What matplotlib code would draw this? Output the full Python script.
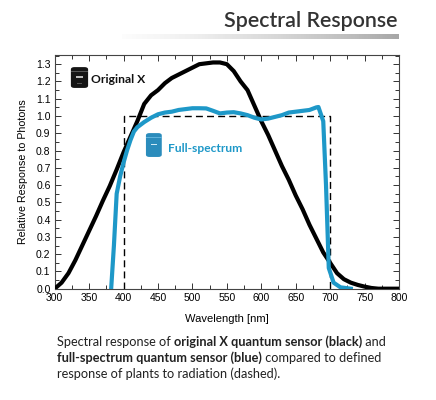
import numpy as np
import matplotlib.pyplot as plt
from matplotlib.patches import FancyBboxPatch, Rectangle
from matplotlib.ticker import MultipleLocator

# spectral response curves
wl_orig = [300, 310, 320, 330, 340, 350, 360, 370, 380, 390, 400, 410, 420, 430,
           440, 450, 460, 470, 480, 490, 500, 510, 520, 530, 540, 550, 560, 570,
           580, 590, 600, 610, 620, 630, 640, 650, 660, 670, 680, 690, 700, 710,
           720, 730, 740, 750, 760, 770, 780, 800]
resp_orig = [0.0, 0.035, 0.09, 0.165, 0.25, 0.335, 0.42, 0.51, 0.595, 0.69, 0.79, 0.88,
             0.97, 1.07, 1.12, 1.15, 1.19, 1.22, 1.24, 1.26, 1.28, 1.30, 1.305, 1.31,
             1.31, 1.30, 1.26, 1.20, 1.15, 1.06, 0.97, 0.89, 0.80, 0.71, 0.63, 0.54,
             0.46, 0.37, 0.29, 0.21, 0.15, 0.09, 0.055, 0.035, 0.022, 0.012, 0.004,
             0.0, 0.0, 0.0]

wl_full = [382, 386, 390, 395, 400, 405, 410, 415, 420, 430, 440, 450, 460, 470,
           480, 490, 500, 510, 520, 530, 540, 550, 560, 570, 580, 590, 600, 610,
           620, 630, 640, 650, 660, 670, 680, 683, 690, 694, 698, 705, 715, 730]
resp_full = [0.0, 0.25, 0.55, 0.65, 0.73, 0.80, 0.86, 0.91, 0.935, 0.965, 0.99,
             1.01, 1.02, 1.025, 1.035, 1.04, 1.045, 1.045, 1.044, 1.03, 1.015, 1.02,
             1.022, 1.015, 1.005, 0.99, 0.98, 0.985, 0.995, 1.005, 1.02, 1.025, 1.03,
             1.035, 1.05, 1.052, 0.97, 0.60, 0.12, 0.035, 0.008, 0.0]

# defined plant response (dashed box)
wl_plant = [400, 400, 700, 700]
resp_plant = [0.0, 1.0, 1.0, 0.0]

blue = "#1e98c8"
W, H = 436, 400

fig = plt.figure(figsize=(W / 100, H / 100), dpi=100)
renderer = fig.canvas.get_renderer()
ax = fig.add_axes([54.7 / W, 1 - 288.7 / H, (399 - 54.7) / W, (288.7 - 54.7) / H])

ax.plot(wl_plant, resp_plant, color="black", lw=1.0, ls=(0, (5, 3)), zorder=2)
ax.plot(wl_orig, resp_orig, color="black", lw=3.0, solid_joinstyle="round", zorder=3)
ax.plot(wl_full, resp_full, color=blue, lw=3.0, solid_joinstyle="round", zorder=4)

ax.set_xlim(300, 800)
ax.set_ylim(0, 1.355)
ax.xaxis.set_major_locator(MultipleLocator(50))
ax.xaxis.set_minor_locator(MultipleLocator(25))
ax.yaxis.set_minor_locator(MultipleLocator(0.05))
yt = np.arange(0, 1.31, 0.1)
ax.set_yticks(yt)
ax.set_yticklabels([f"{v:.1f}" for v in yt])
ax.tick_params(which="both", direction="in", top=True, right=True,
               labelsize=7.5, colors="#333333", pad=3, labelcolor="black")
ax.tick_params(which="major", length=4, width=0.7)
ax.tick_params(which="minor", length=3, width=0.7)
for s in ax.spines.values():
    s.set_linewidth(0.8)
    s.set_color("#444444")
for lab in ax.get_xticklabels() + ax.get_yticklabels():
    lab.set_family("Liberation Sans")


def fit(t, target, horiz=True):
    # scale a text so its extent matches the reference size in pixels
    bb = t.get_window_extent(renderer)
    size = bb.width if horiz else bb.height
    t.set_fontsize(t.get_fontsize() * target / size)


xl = ax.set_xlabel("Wavelength [nm]", family="Liberation Sans", fontsize=8, labelpad=8)
yl = ax.set_ylabel("Relative Response to Photons", family="Liberation Sans",
                   fontsize=8, labelpad=6)
fit(xl, 84)
fit(yl, 144, horiz=False)


def sensor_icon(x0, y0, w, h, body, rim, label):
    # little sensor glyph drawn in axes fraction
    ax.add_patch(FancyBboxPatch((x0, y0), w, h, boxstyle="round,pad=0,rounding_size=0.01",
                                transform=ax.transAxes, fc=body, ec="none", zorder=5))
    ax.add_patch(Rectangle((x0, y0 + h * 0.78), w, h * 0.04,
                           transform=ax.transAxes, fc=rim, ec="none", zorder=6))
    ax.add_patch(Rectangle((x0 + w * 0.3, y0 + h * 0.5), w * 0.4, h * 0.05,
                           transform=ax.transAxes, fc=label, ec="none", zorder=6))
    ax.add_patch(Rectangle((x0 + w * 0.35, y0 + h * 0.2), w * 0.3, h * 0.025,
                           transform=ax.transAxes, fc=rim, ec="none", zorder=6))


sensor_icon(0.047, 0.858, 0.05, 0.089, "#151515", "#555555", "#bbbbbb")
sensor_icon(0.265, 0.563, 0.046, 0.102, "#2b8cbc", "#5fb3dc", "#cfe9f5")

t1 = ax.text(0.105, 0.896, "Original X", transform=ax.transAxes, family="Lato",
             fontweight="bold", fontsize=8.5, color="#111111", va="center", zorder=6)
t2 = ax.text(0.329, 0.601, "Full-spectrum", transform=ax.transAxes, family="Lato",
             fontweight="bold", fontsize=8.5, color=blue, va="center", zorder=6)
fit(t1, 54)
fit(t2, 74)

# title and gradient rule
title = fig.text(397 / W, 1 - 27 / H, "Spectral Response", family="Lato",
                 fontweight="semibold", fontsize=15, color="#333333",
                 ha="right", va="baseline")
fit(title, 174.5)
gax = fig.add_axes([122 / W, 1 - 39.5 / H, (398 - 122) / W, 6 / H])
grad = np.linspace(0, 1, 256).reshape(1, -1)
gax.imshow(grad, aspect="auto", cmap="Greys", vmin=-0.05, vmax=2.3)
gax.axis("off")

# caption with bold runs
caption = [
    [("Spectral response of ", "normal"), ("original X quantum sensor (black)", "bold"),
     (" and", "normal")],
    [("full-spectrum quantum sensor (blue)", "bold"), (" compared to defined", "normal")],
    [("response of plants to radiation (dashed).", "normal")],
]

# size the caption so that its first line spans the reference width
fs = 9.5
probe = sum(fig.text(0, 0, txt, family="Lato", fontweight=wt, fontsize=fs)
            .get_window_extent(renderer).width for txt, wt in caption[0])
for t in fig.texts[1:]:
    t.remove()
fs = fs * 331 / probe

y_px = 346
for line in caption:
    x_px = 57
    for txt, wt in line:
        t = fig.text(x_px / W, 1 - y_px / H, txt, family="Lato", fontweight=wt,
                     fontsize=fs, color="#222222", ha="left", va="baseline")
        x_px += t.get_window_extent(renderer).width
    y_px += 16

fig.savefig("out.png", dpi=100)
